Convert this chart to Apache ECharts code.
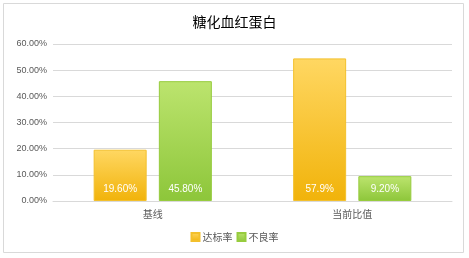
<!DOCTYPE html>
<html><head><meta charset="utf-8">
<script src="https://cdn.jsdelivr.net/npm/echarts@6/dist/echarts.min.js"></script>
<style>html,body{margin:0;padding:0;background:#fff}#c{width:469px;height:258px}</style>
</head><body><div id="c"></div>
<script>
const categories = ['基线', '当前比值'];
const seriesNames = ['达标率', '不良率'];
const passRate = [19.6, 54.5];
const badRate = [45.8, 9.5];
const passLabels = ['19.60%', '57.9%'];
const badLabels = ['45.80%', '9.20%'];
const yTicks = [0, 10, 20, 30, 40, 50, 60];

const chart = echarts.init(document.getElementById('c'), null, {renderer: 'canvas'});
const grad = (a, b) => new echarts.graphic.LinearGradient(0, 0, 0, 1, [{offset: 0, color: a}, {offset: 1, color: b}]);
const font = '"Noto Sans CJK SC", sans-serif';
chart.setOption({
  animation: false,
  graphic: [{type: 'rect', shape: {x: 3.5, y: 3.5, width: 460, height: 249}, style: {fill: 'none', stroke: '#D9D9D9', lineWidth: 1}, z: -1}],
  title: {text: '糖化血红蛋白', left: 'center', top: 10, textStyle: {fontSize: 14, fontWeight: 'normal', color: '#000', fontFamily: font}},
  legend: {bottom: 11, left: 'center', itemWidth: 8, itemHeight: 8, itemGap: 4, icon: 'rect',
    textStyle: {fontSize: 10, color: '#595959', fontFamily: font, padding: [0, 0, 0, -2]}, data: seriesNames},
  grid: {left: 53, right: 17, top: 44, bottom: 57},
  xAxis: {type: 'category', data: categories, axisTick: {show: false},
    axisLine: {lineStyle: {color: '#D9D9D9'}},
    axisLabel: {fontSize: 10, color: '#595959', fontFamily: font, margin: 8}},
  yAxis: {type: 'value', min: yTicks[0], max: yTicks[yTicks.length - 1], interval: 10,
    axisLine: {show: false}, axisTick: {show: false},
    splitLine: {lineStyle: {color: '#D9D9D9'}},
    axisLabel: {fontSize: 9, color: '#595959', margin: 6, fontFamily: 'Liberation Sans, sans-serif', formatter: v => v.toFixed(2) + '%'}},
  series: [
    {name: seriesNames[0], type: 'bar', data: passRate, barWidth: 53, barGap: '23%',
      itemStyle: {color: grad('#FFD762', '#F1B30A'), borderColor: '#F3C02C', borderWidth: 1},
      label: {show: true, position: 'insideBottom', distance: 7, color: '#fff', fontSize: 10, fontFamily: 'Liberation Sans, sans-serif',
        formatter: p => passLabels[p.dataIndex]}},
    {name: seriesNames[1], type: 'bar', data: badRate, barWidth: 53,
      itemStyle: {color: grad('#BCE46E', '#8DC63A'), borderColor: '#97CC3E', borderWidth: 1},
      label: {show: true, position: 'insideBottom', distance: 7, color: '#fff', fontSize: 10, fontFamily: 'Liberation Sans, sans-serif',
        formatter: p => badLabels[p.dataIndex]}}
  ]
});
</script></body></html>
